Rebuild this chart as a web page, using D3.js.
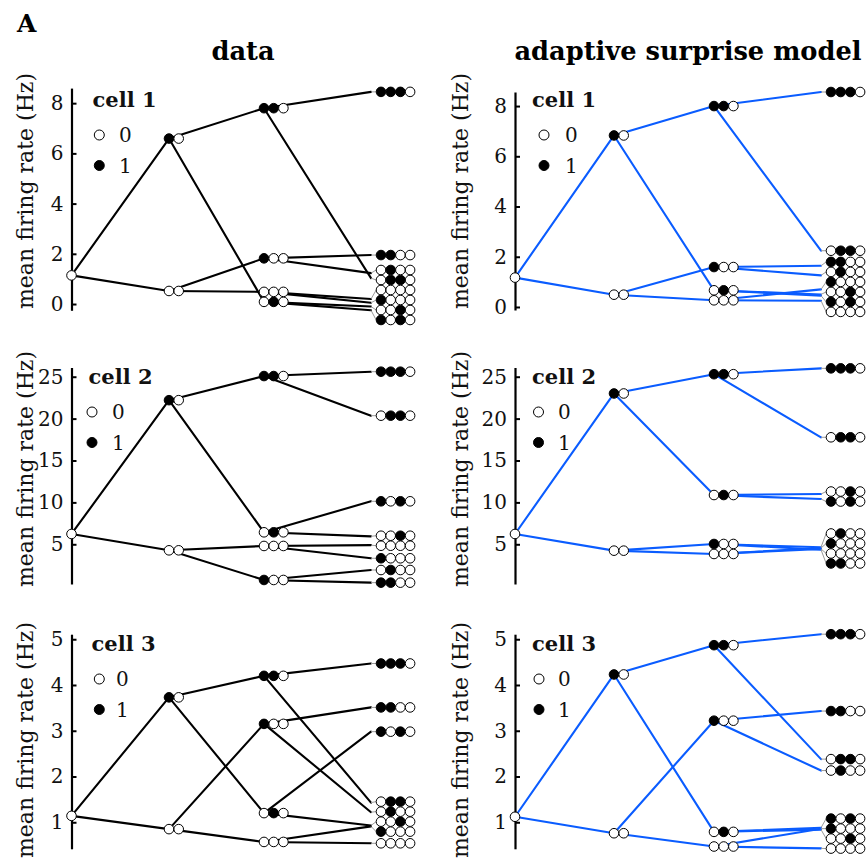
<!DOCTYPE html>
<html><head><meta charset="utf-8">
<script src="https://cdn.jsdelivr.net/npm/d3@7"></script>
<style>body{margin:0;background:#fff}</style>
</head><body><svg id="chart" width="868" height="863"></svg>
<script>
// sequence patterns (oldest ... current); last symbol is the current stimulus
const patterns = ["0","10","00","110","010","100","000",
                  "1110","0110","1010","0010","1100","0100","1000","0000"];
// mean firing rate (Hz) for each pattern
const cell1Data  = [1.14, 6.59, 0.52, 7.80, 0.22, 1.82, 0.35, 8.45, 1.03, -0.25, -0.10, 1.95, 1.23, 0.05, 0.20];
const cell1Model = [1.17, 6.83, 0.49, 8.00, 0.55, 1.59, 0.38, 8.56, 2.24, 0.45, 0.50, 1.64, 1.26, 0.70, 0.25];
const cell2Data  = [6.23, 22.2, 4.28, 25.08, 6.43, 0.74, 4.80, 25.6, 20.35, 10.13, 5.95, 0.42, 1.93, 3.33, 4.90];
const cell2Model = [6.23, 23.0, 4.24, 25.3, 10.88, 4.50, 4.38, 26.0, 17.77, 10.40, 11.0, 4.35, 4.65, 4.55, 4.45];
const cell3Data  = [1.14, 3.73, 0.85, 4.20, 1.20, 3.15, 0.57, 4.47, 1.43, 2.98, 0.93, 3.51, 1.22, 0.91, 0.54];
const cell3Model = [1.12, 4.23, 0.76, 4.87, 0.79, 3.22, 0.47, 5.11, 2.38, 0.88, 0.84, 3.43, 2.13, 0.86, 0.43];

const ticksRow1 = [0, 2, 4, 6, 8];
const ticksRow2 = [5, 10, 15, 20, 25];
const ticksRow3 = [1, 2, 3, 4, 5];
const cellNames = ["cell 1", "cell 2", "cell 3"];
const columnTitles = ["data", "adaptive surprise model"];
const legendLabels = ["0", "1"];
const yLabel = "mean firing rate (Hz)";
const panelLetter = "A";

const seriesGrid = [[cell1Data, cell1Model], [cell2Data, cell2Model], [cell3Data, cell3Model]];
const tickGrid = [ticksRow1, ticksRow2, ticksRow3];
const lineColors = ["#000000", "#0a5cff"];

// ---- layout ----
const serif = "'DejaVu Serif', serif";
const cols = [
  {axisX: 71.5, lx: [71.5, 169, 264, 381], lineEnd: 371, labelX: 33, titleX: 243},
  {axisX: 515,  lx: [515, 614, 714, 831], lineEnd: 821, labelX: 468, titleX: 688}
];
const rows = [
  [{domain: [-0.25, 8.6], range: [310.3, 88.1]}, {domain: [-0.12, 8.56], range: [310, 92]}],
  [{domain: [0.26, 26.1], range: [584, 367.5]}, {domain: [0.26, 26.1], range: [584, 367.5]}],
  [{domain: [0.42, 5.11], range: [848.8, 634.2]}, {domain: [0.42, 5.11], range: [848.8, 634.2]}]
];
const rowLabelY = [191, 469, 740];
const legendBase = [107, 384, 651];
const legendX = [[{t: 92.5, c: 99.3, l: 119}, {t: 532, c: 544, l: 565}],
                 [{t: 88.5, c: 92, l: 112}, {t: 532, c: 538.5, l: 558}],
                 [{t: 91.5, c: 99.3, l: 116}, {t: 532, c: 539, l: 558}]];
const R = 4.8, STEP = 9.7, GAP = 10;

const svg = d3.select("#chart");

svg.append("text").attr("x", 17).attr("y", 32).attr("font-family", serif)
  .attr("font-weight", "bold").attr("font-size", 25).text(panelLetter);
columnTitles.forEach((t, ci) => {
  svg.append("text").attr("x", cols[ci].titleX).attr("y", 59.5).attr("text-anchor", "middle")
    .attr("font-family", serif).attr("font-weight", "bold").attr("font-size", 25.7).text(t);
});

function dodge(nodes, gap) {
  const sorted = nodes.slice().sort((a, b) => a.y - b.y);
  const clusters = sorted.map(n => ({items: [n]}));
  const center = c => d3.mean(c.items, n => n.y);
  const top = c => center(c) - (c.items.length - 1) / 2 * gap;
  const bot = c => center(c) + (c.items.length - 1) / 2 * gap;
  let changed = true;
  while (changed) {
    changed = false;
    for (let i = 0; i < clusters.length - 1; i++) {
      if (top(clusters[i + 1]) - bot(clusters[i]) < gap - 1e-9) {
        clusters[i].items = clusters[i].items.concat(clusters[i + 1].items);
        clusters.splice(i + 1, 1);
        changed = true;
        break;
      }
    }
  }
  clusters.forEach(c => { const t = top(c); c.items.forEach((n, k) => n.dy = t + k * gap); });
}

seriesGrid.forEach((pair, ri) => {
  pair.forEach((values, ci) => {
    const col = cols[ci], cfg = rows[ri][ci];
    const y = d3.scaleLinear().domain(cfg.domain).range(cfg.range);
    const g = svg.append("g");

    // y label
    g.append("text").attr("transform", `translate(${col.labelX},${rowLabelY[ri]}) rotate(-90)`)
      .attr("text-anchor", "middle").attr("font-family", serif).attr("font-size", 22)
      .attr("fill", "#111").text(yLabel);

    // axis
    const ax = g.append("g").attr("transform", `translate(${col.axisX},0)`)
      .call(d3.axisLeft(y).tickValues(tickGrid[ri]).tickFormat(d3.format("d"))
        .tickSizeInner(-5).tickSizeOuter(0).tickPadding(8));
    ax.select(".domain").attr("stroke-width", 2.2).attr("stroke", "#000");
    ax.selectAll(".tick line").attr("stroke-width", 2).attr("stroke", "#000");
    ax.selectAll(".tick text").attr("font-family", serif).attr("font-size", 20).attr("fill", "#111");

    // nodes
    const nodes = patterns.map((p, i) => ({p, level: p.length - 1, v: values[i], y: y(values[i])}));
    const byP = new Map(nodes.map(n => [n.p, n]));
    [0, 1, 2, 3].forEach(L => dodge(nodes.filter(n => n.level === L), GAP));

    const color = lineColors[ci];
    // branch lines
    nodes.filter(n => n.level > 0).forEach(n => {
      const par = byP.get(n.p.slice(1));
      const x1 = col.lx[n.level - 1], y1 = par.dy;
      const x2 = n.level === 3 ? col.lineEnd : col.lx[n.level];
      const y2 = n.level === 3 ? n.y : n.dy;
      g.append("line").attr("x1", x1).attr("y1", y1).attr("x2", x2).attr("y2", y2)
        .attr("stroke", color).attr("stroke-width", 2.1).attr("stroke-linecap", "round");
    });
    // connectors at last level
    nodes.filter(n => n.level === 3).forEach(n => {
      g.append("line").attr("x1", col.lineEnd).attr("y1", n.y).attr("x2", col.lx[3] - R).attr("y2", n.dy)
        .attr("stroke", "#9a9a9a").attr("stroke-width", 1);
    });
    // circles
    nodes.forEach(n => {
      n.p.split("").forEach((ch, j) => {
        g.append("circle").attr("cx", col.lx[n.level] + j * STEP).attr("cy", n.dy).attr("r", R)
          .attr("fill", ch === "1" ? "#000" : "#fff").attr("stroke", "#000").attr("stroke-width", 1);
      });
    });

    // legend
    const lx = legendX[ri][ci], lb = legendBase[ri];
    g.append("text").attr("x", lx.t).attr("y", lb).attr("font-family", serif).attr("font-weight", "bold")
      .attr("font-size", 21).attr("fill", "#111").text(cellNames[ri]);
    legendLabels.forEach((lab, k) => {
      const cy = lb + 28 + k * 30.5;
      g.append("circle").attr("cx", lx.c).attr("cy", cy).attr("r", 5)
        .attr("fill", k === 1 ? "#000" : "#fff").attr("stroke", "#000").attr("stroke-width", 1);
      g.append("text").attr("x", lx.l).attr("y", cy + 7).attr("font-family", serif)
        .attr("font-size", 20).attr("fill", "#111").text(lab);
    });
  });
});
</script></body></html>
